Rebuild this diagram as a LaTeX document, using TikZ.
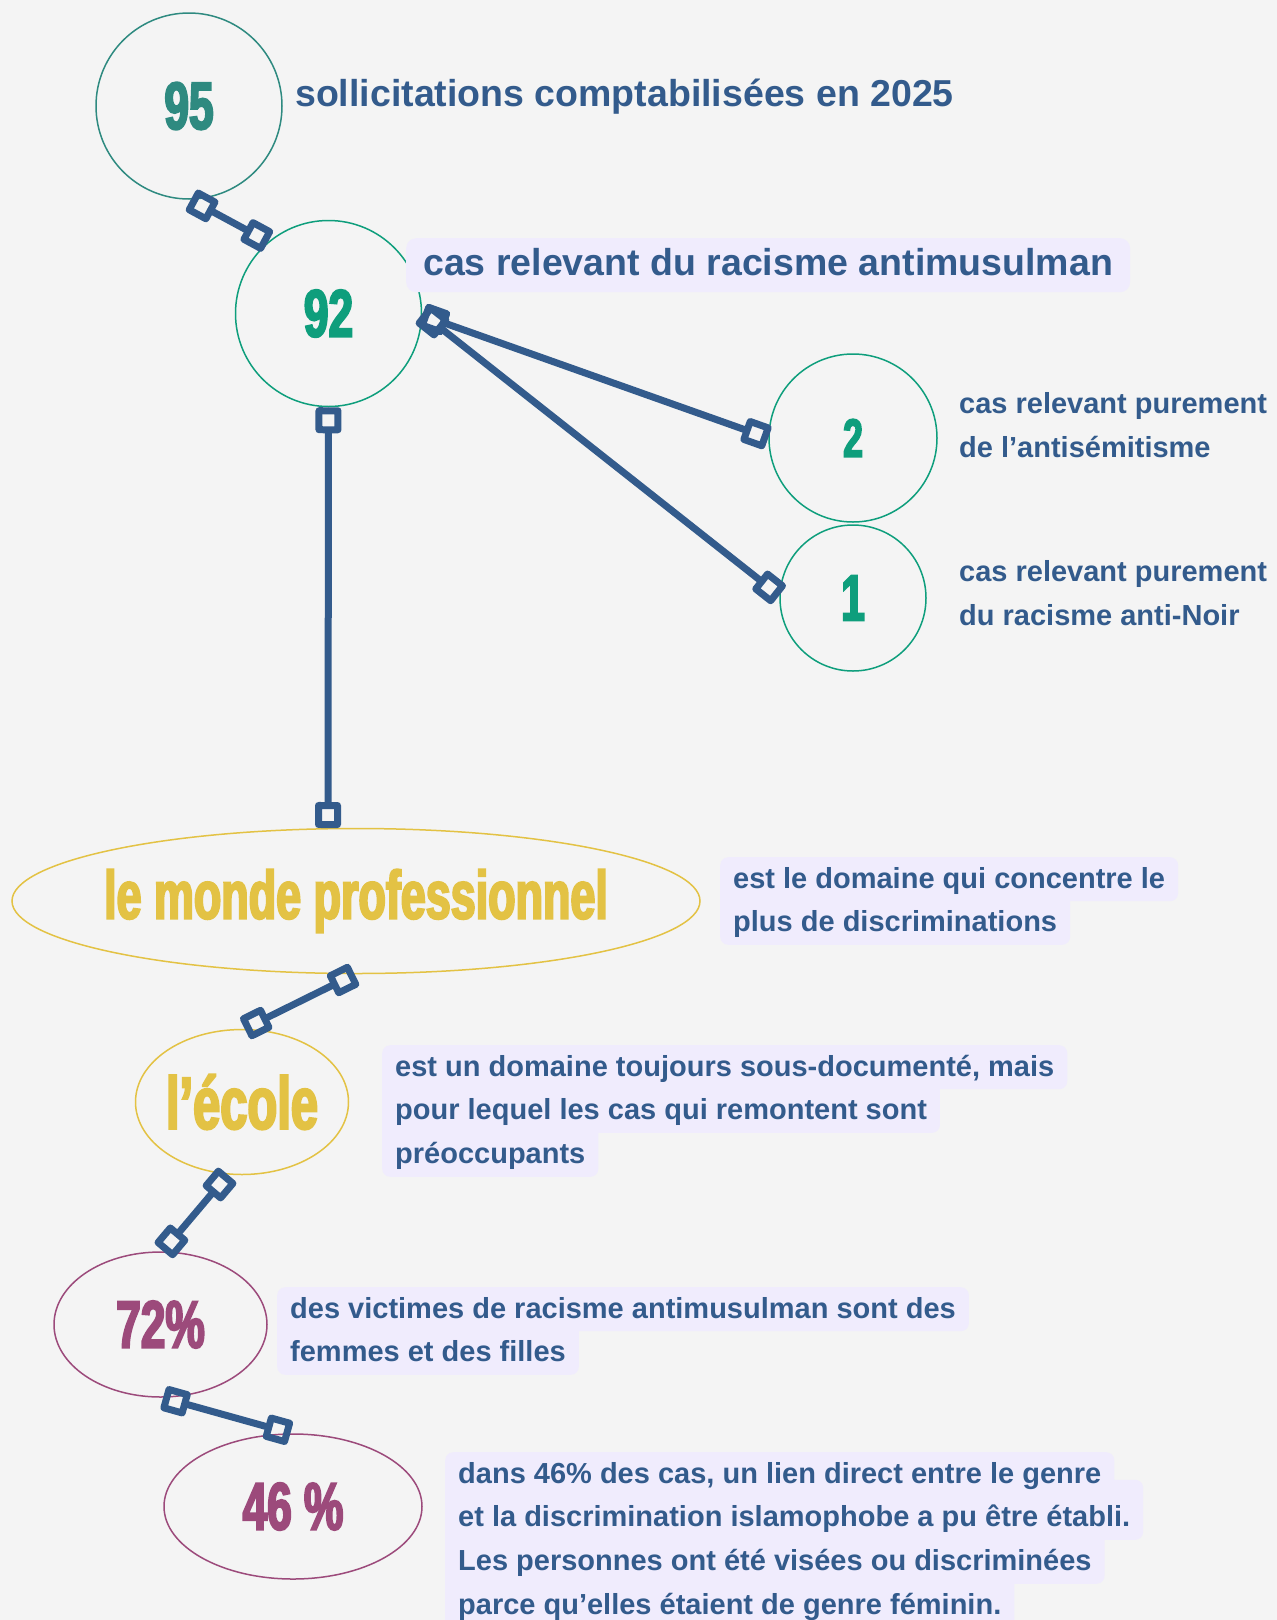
\documentclass[tikz,border=0pt]{standalone}
\usepackage{fontspec}
\setmainfont{Liberation Sans}
\newfontfamily\numfont[FakeStretch=0.66,FakeBold=3]{Liberation Sans}
\usetikzlibrary{arrows.meta,positioning,shapes.geometric}

\definecolor{fond}{HTML}{F4F4F4}
\definecolor{bleu}{HTML}{335B8C}
\definecolor{lavande}{HTML}{F0ECFD}
\definecolor{sarcelle}{HTML}{2E8A80}
\definecolor{vert}{HTML}{0E9E7C}
\definecolor{jaune}{HTML}{E3C244}
\definecolor{prune}{HTML}{9C4A7B}

\tikzset{
	carre/.tip={Square[open,round,length=26pt,width=26pt]},
	lien/.style={draw=bleu, line width=7pt, carre-carre},
	bulle/.style={shape=circle, draw=#1, text=#1, line width=1.5pt, inner sep=0pt},
	ovale/.style={shape=ellipse, draw=#1, text=#1, line width=1.5pt, inner sep=0pt},
	chiffre/.style={font=\numfont\bfseries\fontsize{#1}{#1}\selectfont},
	titre/.style={text=bleu, inner sep=0pt, font=\bfseries\fontsize{37.5}{45}\selectfont},
	petit/.style={text=bleu, inner sep=0pt, font=\bfseries\fontsize{29}{29}\selectfont},
	grand surligne/.style={fill=lavande, rounded corners=10pt, text=bleu, inner xsep=17pt, inner ysep=10pt,
		text height=27pt, text depth=7pt, font=\bfseries\fontsize{37.5}{45}\selectfont},
	ligne/.style={fill=lavande, rounded corners=8pt, text=bleu, inner xsep=13pt, inner ysep=8pt,
		text height=23pt, text depth=5pt, font=\bfseries\fontsize{29}{29}\selectfont},
	ligne suite/.style={ligne, text height=39pt}
}

\begin{document}
\begin{tikzpicture}[x=1pt, y=1pt]

	\path[use as bounding box, fill=fond] (0,0) rectangle (1277,-1620);

	\node[bulle=sarcelle, minimum size=186pt, chiffre=67] (c95) at (189,-106)      {95};
	\node[bulle=vert, minimum size=186pt, chiffre=67]     (c92) at (328.5,-313.5)  {92};
	\node[bulle=vert, minimum size=168pt, chiffre=54]     (c2)  at (853,-438)      {2};
	\node[bulle=vert, minimum size=146pt, chiffre=65]     (c1)  at (853,-598)      {1};
	\node[ovale=jaune, minimum width=688pt, minimum height=145pt, chiffre=68] (monde) at (356,-901)    {\makebox[0pt]{le monde professionnel}};
	\node[ovale=jaune, minimum width=213pt, minimum height=145pt, chiffre=74] (ecole) at (242,-1102)   {\makebox[0pt]{l’école}};
	\node[ovale=prune, minimum width=213pt, minimum height=145pt, chiffre=67] (vic)   at (160.5,-1324.5) {72\%};
	\node[ovale=prune, minimum width=258pt, minimum height=145pt, chiffre=67] (genre) at (293,-1506.5)   {46 \%};

	\node[titre, anchor=base west] (solli) at (295,-106) {sollicitations comptabilisées en 2025};
	\node[grand surligne, anchor=north west] (antimus) at (406,-238) {cas relevant du racisme antimusulman};

	\node[petit, anchor=base west] (anti1) at (959,-413) {cas relevant purement};
	\node[petit, anchor=base west] (anti2) at ([yshift=-44pt]anti1.base west) {de l’antisémitisme};
	\node[petit, anchor=base west] (noir1) at (959,-581) {cas relevant purement};
	\node[petit, anchor=base west] (noir2) at ([yshift=-44pt]noir1.base west) {du racisme anti-Noir};

	\coordinate (dom) at (720,-857);
	\node[ligne suite, anchor=south west] (dom2) at ([yshift=-88pt]dom) {plus de discriminations};
	\node[ligne, anchor=north west] (dom1) at (dom) {est le domaine qui concentre le};

	\coordinate (ec) at (382,-1045);
	\node[ligne suite, anchor=south west] (ec3) at ([yshift=-132pt]ec) {préoccupants};
	\node[ligne suite, anchor=south west] (ec2) at ([yshift=-88pt]ec) {pour lequel les cas qui remontent sont};
	\node[ligne, anchor=north west] (ec1) at (ec) {est un domaine toujours sous-documenté, mais};

	\coordinate (vi) at (277,-1287);
	\node[ligne suite, anchor=south west] (vic2) at ([yshift=-88pt]vi) {femmes et des filles};
	\node[ligne, anchor=north west] (vic1) at (vi) {des victimes de racisme antimusulman sont des};

	\coordinate (ge) at (445,-1452);
	\node[ligne suite, anchor=south west] (gen4) at ([yshift=-176pt]ge) {parce qu’elles étaient de genre féminin.};
	\node[ligne suite, anchor=south west] (gen3) at ([yshift=-132pt]ge) {Les personnes ont été visées ou discriminées};
	\node[ligne suite, anchor=south west] (gen2) at ([yshift=-88pt]ge) {et la discrimination islamophobe a pu être établi.};
	\node[ligne, anchor=north west] (gen1) at (ge) {dans 46\% des cas, un lien direct entre le genre};

	\draw[lien] (c95.-89) -- (c92.130);
	\draw[lien] (c92.-1) -- (c2.180);
	\draw[lien] (c92.0) -- (c1.178);
	\draw[lien] (c92.south) -- (monde.111);
	\draw[lien] (monde.-91) -- (ecole.88);
	\draw[lien] (ecole.-101) -- (vic.88);
	\draw[lien] (vic.-88) -- (genre.92);
\end{tikzpicture}
\end{document}
